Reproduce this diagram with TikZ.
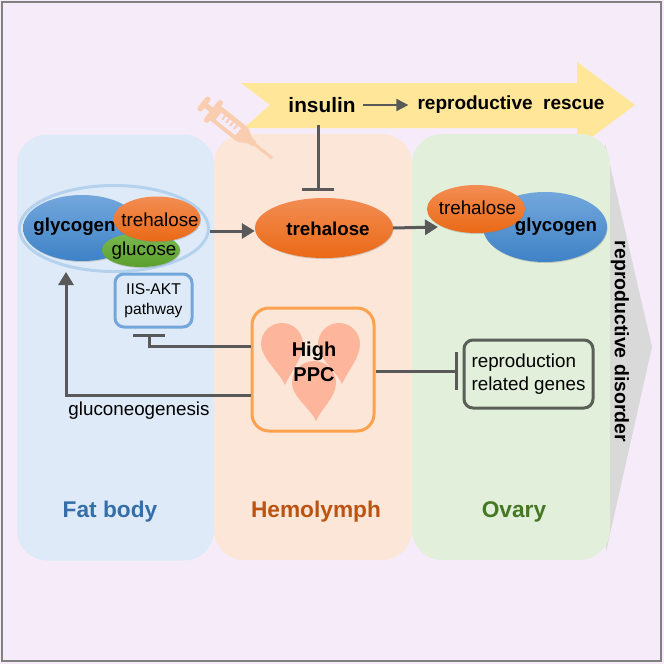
\documentclass[tikz,border=0pt]{standalone}
\usepackage{fontspec}
\setmainfont{Liberation Sans}
\usepackage{tikz}
\usetikzlibrary{shapes.geometric, arrows.meta, shadows}
\definecolor{pagebg}{HTML}{F6ECF9}
\definecolor{linegray}{HTML}{595959}
\definecolor{peach}{HTML}{F9CDB0}
\definecolor{dropred}{HTML}{FDB59C}
\definecolor{bannerfill}{HTML}{FFE699}
\definecolor{fatfill}{HTML}{DEEAF7}
\definecolor{hemofill}{HTML}{FCE6D8}
\definecolor{ovaryfill}{HTML}{E2EFDA}
\definecolor{ringblue}{HTML}{B4D2EE}
\definecolor{bluetop}{HTML}{73A7DC}
\definecolor{bluelow}{HTML}{3E82C6}
\definecolor{orangetop}{HTML}{F38D53}
\definecolor{orangelow}{HTML}{EA6916}
\definecolor{greentop}{HTML}{7AB84E}
\definecolor{greenlow}{HTML}{5AA02E}
\tikzstyle{panel} = [rectangle, rounded corners=30pt, minimum height=426pt, minimum width=198pt, inner sep=0pt]
\tikzstyle{blob} = [ellipse, inner sep=0pt, drop shadow={opacity=0.35, shadow xshift=0.6pt, shadow yshift=-1pt}]
\tikzstyle{blueblob} = [blob, top color=bluetop, bottom color=bluelow]
\tikzstyle{orangeblob} = [blob, top color=orangetop, bottom color=orangelow]
\tikzstyle{greenblob} = [blob, top color=greentop, bottom color=greenlow]
\tikzstyle{word} = [inner sep=0pt, font=\fontsize{18.8}{22}\selectfont]
\tikzstyle{heavy} = [inner sep=0pt, font=\fontsize{18.7}{22}\selectfont\bfseries]
\tikzstyle{title} = [inner sep=0pt, font=\fontsize{22.7}{26}\selectfont\bfseries]
\tikzstyle{arrow} = [line width=3pt, draw=linegray, -{Triangle[length=13pt,width=15pt]}]
\tikzstyle{inhibit} = [line width=3pt, draw=linegray, -{Bar[width=32pt,line width=3pt]}]
\tikzstyle{box} = [rectangle, rounded corners=9pt, line width=3pt, inner sep=0pt]
\tikzstyle{syringe} = [draw=peach, line width=5.5pt, line cap=round]
\begin{document}
\begin{tikzpicture}[x=1pt,y=-1pt]
\useasboundingbox (0,0) rectangle (664,664);
\fill [pagebg] (0,0) rectangle (664,664);
\draw [gray, line width=1.5pt] (2,2) rectangle (661,661);

% banner and side wedge go under the panels
\fill [bannerfill] (241,83) -- (577,83) -- (577,62) -- (635,105) -- (577,148) -- (577,128) -- (244,128) -- (270,105) -- cycle;
\fill [gray!30] (605,143) -- (652,347) -- (606,552) -- cycle;

% tissue panels
\node (fat) [panel, fill=fatfill, minimum width=197pt] at (115.5,347.5) {};
\node (hemo) [panel, fill=hemofill] at (313,347) {};
\node (ovary) [panel, fill=ovaryfill] at (511,347) {};

% syringe
\begin{scope}[shift={(204,104)}, rotate=-38.5]
\draw [syringe] (0,-6) -- (0,6);
\draw [syringe] (0,0) -- (12,0);
\draw [syringe] (12,-11) -- (12,11);
\fill [peach, rounded corners=3pt] (12,-9) -- (50,-9) -- (59,-3) -- (66,-3) -- (66,3) -- (59,3) -- (50,9) -- (12,9) -- cycle;
\draw [peach, line width=3pt] (64,0) -- (87,0);
\fill [pagebg] (19,-4) rectangle (44,5);
\foreach \tick in {24,29,34,39}
  \fill [peach] (\tick-1,-4) rectangle (\tick+1,1);
\end{scope}

% fat body
\node (ring) [ellipse, draw=ringblue, line width=3pt, minimum width=189pt, minimum height=86pt, inner sep=0pt] at (114,228.5) {};
\node (glyA) [blueblob, minimum width=118pt, minimum height=66pt] at (82,228) {};
\node (gluc) [greenblob, minimum width=78pt, minimum height=34pt] at (141,250) {};
\node (trehA) [orangeblob, minimum width=87pt, minimum height=45pt] at (157,219) {};
\node (glyAtxt) [heavy] at (74.5,227) {glycogen};
\node (trehAtxt) [word] at (160,220) {trehalose};
\node (glucTxt) [word] at (144,251) {glucose};
\node (iis) [box, draw=bluetop, minimum width=77pt, minimum height=53pt, align=center, font=\fontsize{15.6}{20}\selectfont] at (153.5,300.5) {IIS-AKT\\pathway};

% hemolymph
\node (trehB) [orangeblob, minimum width=138pt, minimum height=60pt] at (324,228) {};
\node (trehBtxt) [heavy] at (328,229) {trehalose};
\node (ppc) [box, draw=orange!55!peach, rounded corners=17pt, minimum width=122pt, minimum height=123pt] at (313,369.5) {};

% three drops inside the PPC box
\foreach \hx/\hy/\tx/\ty/\rad in {282/344/285/385/21, 339/344/342/384/21, 314/383/316/421/22}
  \fill [dropred] (\hx-\rad,\hy) arc [start angle=180, end angle=0, radius=\rad pt] .. controls (\hx+\rad,\hy+14) and (\tx+5,\ty-12) .. (\tx,\ty) .. controls (\tx-5,\ty-12) and (\hx-\rad,\hy+14) .. (\hx-\rad,\hy) -- cycle;
\node (ppcTxt) [heavy, font=\fontsize{20}{25}\selectfont\bfseries, align=center] at (314,361.5) {High\\PPC};

% ovary
\node (glyB) [blueblob, minimum width=124pt, minimum height=70pt] at (545,227) {};
\node (trehC) [orangeblob, minimum width=98pt, minimum height=48pt] at (476,209) {};
\node (trehCtxt) [word] at (477.5,208) {trehalose};
\node (glyBtxt) [heavy] at (556,227) {glycogen};
\node (genes) [box, draw=black!60!ovaryfill, minimum width=129pt, minimum height=68pt, align=left, font=\fontsize{18.8}{23}\selectfont] at (528.5,374) {reproduction\\related genes};

% banner text
\node (insulin) [heavy, font=\fontsize{20.8}{24}\selectfont\bfseries] at (322,105) {insulin};
\node (rescue) [heavy, font=\fontsize{19}{22}\selectfont\bfseries] at (511,105) {reproductive\ \ rescue};
\node (disorder) [heavy, font=\fontsize{19.5}{22}\selectfont\bfseries, rotate=-90] at (620,341.5) {reproductive disorder};

% captions
\node (gng) [word] at (139,411) {gluconeogenesis};
\node (fatTxt) [title, text=bluelow!85!black] at (110,512) {Fat body};
\node (hemoTxt) [title, text=orangelow!80!black] at (316,512) {Hemolymph};
\node (ovaryTxt) [title, text=greenlow!75!black] at (514,512) {Ovary};

% connectors
\coordinate (bendL) at (66,395);
\coordinate (ringFoot) at (66,272);
\coordinate (iisFoot) at (149,334);
\coordinate (genesBar) at (457.5,371);
\coordinate (trehBtop) at (318,191);
\coordinate (trehCfoot) at (438,227);
\draw [arrow] (ring.east |- 0,231) -- (trehB.west |- 0,231);
\draw [arrow] (trehB.east) -- (trehCfoot);
\draw [arrow, line width=2.2pt, shorten >=9pt, -{Triangle[length=12pt,width=12pt]}] (insulin.east) ++(7,0) -- (rescue.west);
\draw [inhibit] (trehBtop |- insulin.south) ++(0,12) -- (trehBtop);
\draw [inhibit] (ppc.west |- 0,346) -| (iisFoot);
\draw [arrow] (ppc.west |- 0,395) -- (bendL) -- (ringFoot);
\draw [inhibit, -{Bar[width=38pt,line width=3pt]}] (ppc.east |- 0,371) -- (genesBar);
\end{tikzpicture}
\end{document}
